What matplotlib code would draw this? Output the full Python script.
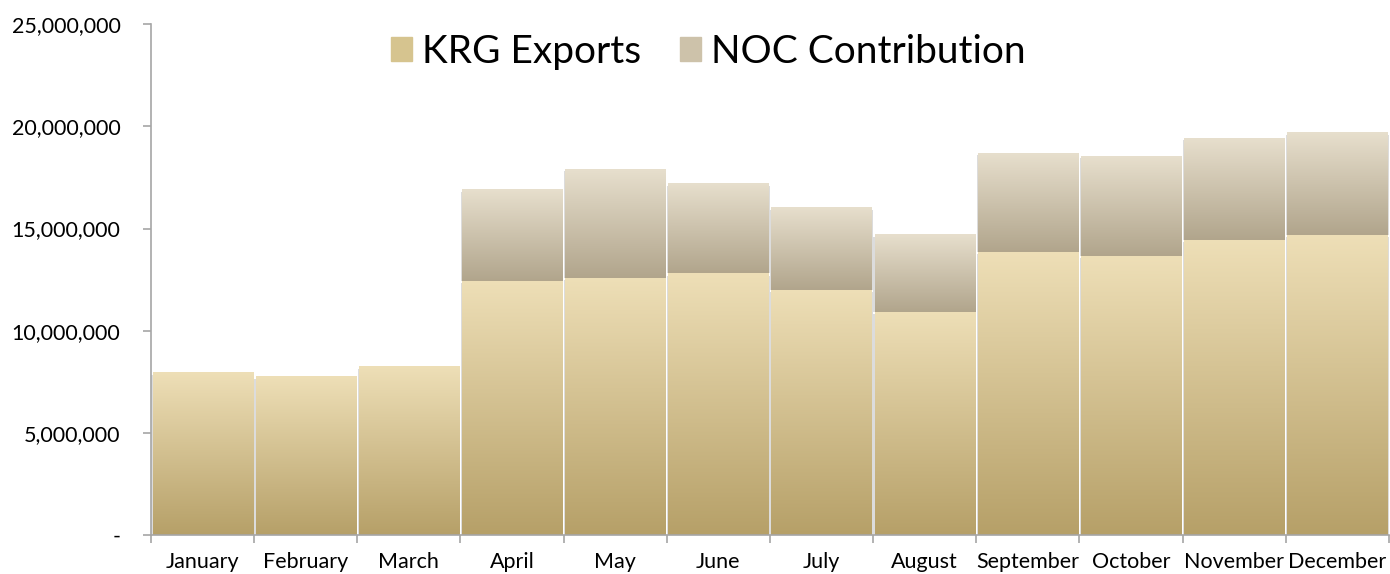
import matplotlib.pyplot as plt
import numpy as np
from matplotlib.colors import LinearSegmentedColormap
from matplotlib.ticker import FuncFormatter

months = ['January', 'February', 'March', 'April', 'May', 'June', 'July',
          'August', 'September', 'October', 'November', 'December']
krg_exports = [7.94e6, 7.75e6, 8.24e6, 12.45e6, 12.6e6, 12.8e6, 12.0e6,
               10.93e6, 13.87e6, 13.64e6, 14.46e6, 14.7e6]
noc_contrib = [0, 0, 0, 4.46e6, 5.3e6, 4.36e6, 4.03e6,
               3.77e6, 4.81e6, 4.89e6, 4.95e6, 5.0e6]

plt.rcParams['font.family'] = ['Lato', 'DejaVu Sans']

krg_cmap = LinearSegmentedColormap.from_list('krg', ['#b6a068', '#eedfb7'])
noc_cmap = LinearSegmentedColormap.from_list('noc', ['#b1a58c', '#e7dfcd'])
grad = np.linspace(0, 1, 256).reshape(-1, 1)

fig = plt.figure(figsize=(13.9, 5.74), dpi=100)
ax = fig.add_axes([0.1086, 0.0679, 0.8906, 0.890])

x = np.arange(len(months))
w = 0.97
bars1 = ax.bar(x, krg_exports, width=w, color='none', edgecolor='none', label='KRG Exports')
bars2 = ax.bar(x, noc_contrib, width=w, bottom=krg_exports, color='none',
               edgecolor='none', label='NOC Contribution')

# gradient fill + soft shadow for each segment
for bars, cmap in [(bars1, krg_cmap), (bars2, noc_cmap)]:
    for b in bars:
        if b.get_height() <= 0:
            continue
        x0, y0 = b.get_x(), b.get_y()
        x1, y1 = x0 + b.get_width(), y0 + b.get_height()
        ax.add_patch(plt.Rectangle((x0 - 0.012, y0), b.get_width() + 0.024,
                                   b.get_height() - 0.1e6,
                                   color='#dcdcdc', zorder=1, lw=0))
        ax.imshow(grad, extent=(x0, x1, y0, y1), origin='lower', cmap=cmap,
                  aspect='auto', zorder=2, interpolation='bicubic')

ax.set_xlim(-0.5, len(months) - 0.5)
ax.set_ylim(0, 25e6)
ax.set_yticks(np.arange(0, 25e6 + 1, 5e6))
ax.yaxis.set_major_formatter(FuncFormatter(lambda v, p: '-' if v == 0 else f'{int(v):,}'))

ax.set_xticks(x)
ax.set_xticklabels(months)
ax.set_xticks(np.arange(-0.5, len(months)), minor=True)
ax.tick_params(axis='x', which='major', length=0, pad=12, labelsize=15.5)
ax.tick_params(axis='x', which='minor', length=6, color='#a6a6a6', width=1.2)
ax.tick_params(axis='y', length=6, color='#a6a6a6', width=1.2, pad=16, labelsize=15.5)

for s in ['top', 'right']:
    ax.spines[s].set_visible(False)
for s in ['left', 'bottom']:
    ax.spines[s].set_color('#a6a6a6')
    ax.spines[s].set_linewidth(1.2)

h1 = plt.Rectangle((0, 0), 1, 1, color='#d6c48f')
h2 = plt.Rectangle((0, 0), 1, 1, color='#cdc2aa')
ax.legend([h1, h2], ['KRG Exports', 'NOC Contribution'], loc='upper center',
          bbox_to_anchor=(0.45, 1.05), ncol=2, frameon=False, fontsize=28,
          handlelength=0.55, handleheight=0.6, handletextpad=0.25, columnspacing=1.0)

plt.savefig('out.png', dpi=100)
